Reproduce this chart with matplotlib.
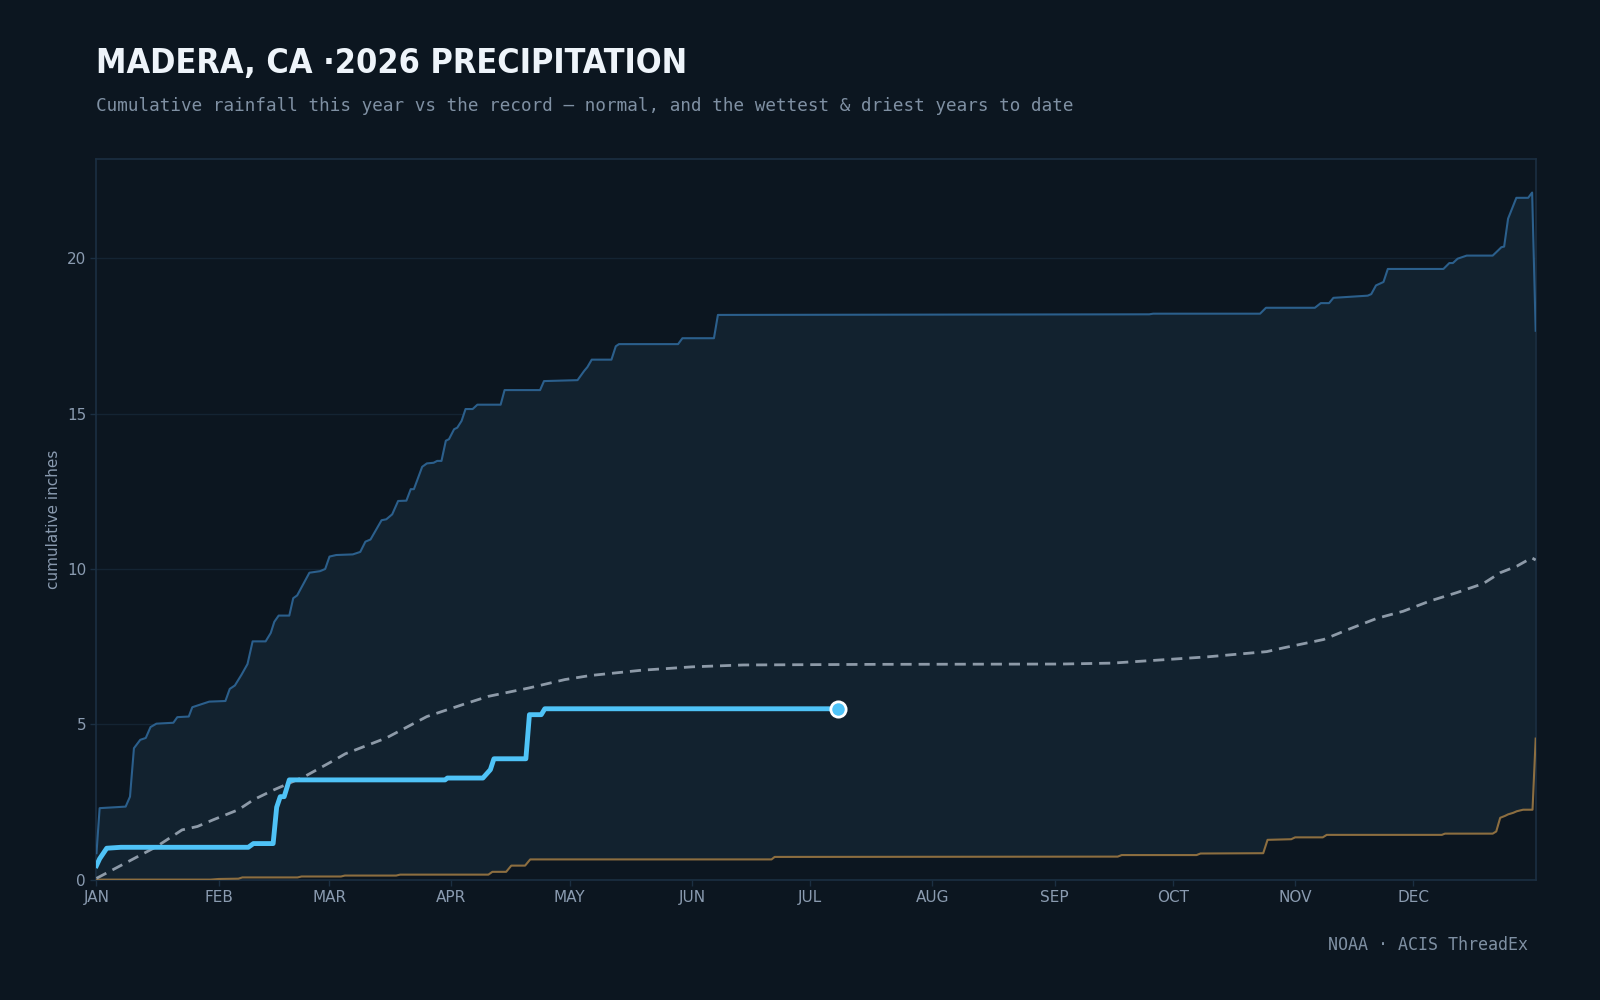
import matplotlib
matplotlib.use("Agg")
import matplotlib.pyplot as plt
import numpy as np

# month ticks (day of year)
month_days = [0, 31, 59, 90, 120, 151, 181, 212, 243, 273, 304, 334]
month_labels = ['JAN', 'FEB', 'MAR', 'APR', 'MAY', 'JUN', 'JUL', 'AUG', 'SEP', 'OCT', 'NOV', 'DEC']

# wettest year to date (upper envelope)
wet_day = [0, 0.8, 7.4, 8.5, 9.5, 11.1, 12.5, 13.7, 15.2, 19.5,
           20.5, 23.4, 24.3, 28.6, 32.7, 33.8, 35.1, 36.8, 38.3, 39.6,
           42.9, 44.2, 45.1, 46.2, 48.9, 49.9, 50.9, 54, 56.7, 58,
           59.1, 60.8, 65, 66.9, 68.2, 69.5, 72.3, 73.5, 75, 76.5,
           78.6, 79.7, 80.5, 82.6, 83.8, 85.5, 86.4, 87.5, 88.6, 89.4,
           90.7, 91.5, 92.6, 93.6, 95.4, 96.6, 102.5, 103.5, 112.5, 113.5,
           122, 123.7, 124.5, 125.6, 130.6, 131.7, 132.5, 147.5, 148.6, 156.6,
           157.6, 267, 268, 295.1, 296.6, 309, 310.5, 312.6, 313.7, 322.4,
           323.3, 324.5, 326.4, 327.5, 341.6, 343.1, 344, 345.2, 347.5, 354.1,
           355.5, 356.3, 357, 358, 360.1, 363.1, 364.1, 365]
wet_val = [0.85, 2.3, 2.35, 2.67, 4.23, 4.5, 4.56, 4.91, 5.02, 5.05,
           5.23, 5.25, 5.55, 5.73, 5.75, 6.14, 6.25, 6.6, 6.94, 7.67,
           7.67, 7.94, 8.3, 8.5, 8.5, 9.06, 9.15, 9.88, 9.93, 10.0,
           10.4, 10.45, 10.47, 10.55, 10.88, 10.95, 11.57, 11.6, 11.76, 12.19,
           12.2, 12.57, 12.57, 13.29, 13.4, 13.42, 13.48, 13.48, 14.13, 14.18,
           14.5, 14.55, 14.77, 15.15, 15.15, 15.29, 15.29, 15.76, 15.76, 16.05,
           16.08, 16.38, 16.5, 16.74, 16.74, 17.17, 17.24, 17.24, 17.43, 17.43,
           18.18, 18.2, 18.22, 18.22, 18.41, 18.41, 18.56, 18.56, 18.73, 18.8,
           18.85, 19.13, 19.24, 19.66, 19.66, 19.85, 19.85, 19.99, 20.09, 20.09,
           20.26, 20.36, 20.38, 21.28, 21.95, 21.95, 22.12, 17.67]

# driest year to date (lower envelope)
dry_day = [0, 29, 31, 36, 37, 51, 52, 62, 63, 76,
           77, 99.4, 100.4, 103.9, 105.2, 108.7, 110, 171.2, 172, 259,
           260, 279, 280, 295.9, 297, 303, 304, 311, 312, 341.2,
           342, 354.1, 355, 356, 357.2, 358, 359.3, 360.2, 361.8, 364.2,
           365]
dry_val = [0, 0, 0.02, 0.03, 0.07, 0.07, 0.1, 0.1, 0.13, 0.13,
           0.16, 0.16, 0.25, 0.25, 0.45, 0.45, 0.65, 0.65, 0.73, 0.74,
           0.79, 0.79, 0.84, 0.85, 1.28, 1.3, 1.36, 1.36, 1.44, 1.44,
           1.48, 1.48, 1.55, 1.99, 2.05, 2.1, 2.15, 2.2, 2.25, 2.25,
           4.54]

# normal cumulative
norm_day = [0, 8.8, 15.2, 21.7, 25.6, 29.5, 36, 39.8, 45, 52.8,
            60.5, 63.1, 73.5, 83.8, 86.4, 94.2, 99.4, 109.7, 118.8, 125.2,
            138.2, 151.1, 164, 197.8, 244.6, 257.6, 267.2, 281.6, 296.8, 301,
            311.2, 318, 324.7, 331.4, 338.2, 345, 351.7, 356, 360.2, 364,
            365]
norm_val = [0.04, 0.63, 1.06, 1.6, 1.71, 1.92, 2.25, 2.57, 2.89, 3.32,
            3.86, 4.05, 4.56, 5.25, 5.36, 5.69, 5.9, 6.17, 6.44, 6.57,
            6.74, 6.85, 6.91, 6.93, 6.94, 6.97, 7.05, 7.17, 7.34, 7.46,
            7.73, 8.08, 8.41, 8.64, 8.97, 9.24, 9.53, 9.88, 10.09, 10.36,
            10.29]

# 2026 so far
cur_day = [0, 0.8, 2.6, 6.2, 38.5, 39.8, 44.8, 45.7, 46.6, 47.6,
           48.9, 88.4, 89, 98, 99.9, 100.8, 108.9, 109.8, 112.8, 113.7, 188]
cur_val = [0.45, 0.67, 1.01, 1.04, 1.04, 1.16, 1.16, 2.33, 2.67, 2.67,
           3.21, 3.21, 3.27, 3.27, 3.54, 3.89, 3.89, 5.31, 5.31, 5.5, 5.5]

bg = '#0c1620'
band = '#12222f'
spine = '#1b2f42'
tick_col = '#8a9bb0'

fig = plt.figure(figsize=(16, 10), dpi=100, facecolor=bg)
ax = fig.add_axes([0.0603, 0.1204, 0.8995, 0.7206], facecolor=bg)

# band between driest and wettest
ax.fill(np.concatenate([wet_day, dry_day[::-1]]),
        np.concatenate([wet_val, dry_val[::-1]]),
        color=band, lw=0, zorder=1)
ax.plot(wet_day, wet_val, color='#2b5f8c', lw=1.5, zorder=3)
ax.plot(dry_day, dry_val, color='#8c6e40', lw=1.5, zorder=3)
ax.plot(norm_day, norm_val, color='#8d9aa8', lw=2, ls=(0, (4, 2.5)), zorder=4)
ax.plot(cur_day, cur_val, color='#4fc3f7', lw=3.5, zorder=5, solid_joinstyle='round')
ax.plot(cur_day[-1], cur_val[-1], 'o', ms=11, mfc='#4fc3f7', mec='white', mew=2, zorder=6)

ax.set_xlim(0, 365)
ax.set_ylim(0, 23.2)
ax.set_xticks(month_days)
ax.set_xticklabels(month_labels)
ax.set_yticks([0, 5, 10, 15, 20])
ax.grid(axis='y', color='#142433', lw=1, zorder=0)
ax.set_axisbelow(True)
ax.tick_params(colors=spine, labelcolor=tick_col, labelsize=11, length=4, width=1)
for s in ax.spines.values():
    s.set_color(spine)
    s.set_linewidth(1.2)
ax.set_ylabel('cumulative inches', color=tick_col, fontsize=11, labelpad=4)

fig.text(0.06, 0.927, 'MADERA, CA ·2026 PRECIPITATION', color='#eef4fa',
         fontsize=24.5, fontweight='bold', fontstretch='condensed', family='DejaVu Sans')
fig.text(0.06, 0.889, 'Cumulative rainfall this year vs the record \u2014 normal, and the wettest & driest years to date',
         color='#7f90a3', fontsize=12.7, family='DejaVu Sans Mono')
fig.text(0.955, 0.05, 'NOAA · ACIS ThreadEx', color='#7f90a3', fontsize=12,
         family='DejaVu Sans Mono', ha='right')

fig.savefig('out.png', dpi=100, facecolor=bg)
